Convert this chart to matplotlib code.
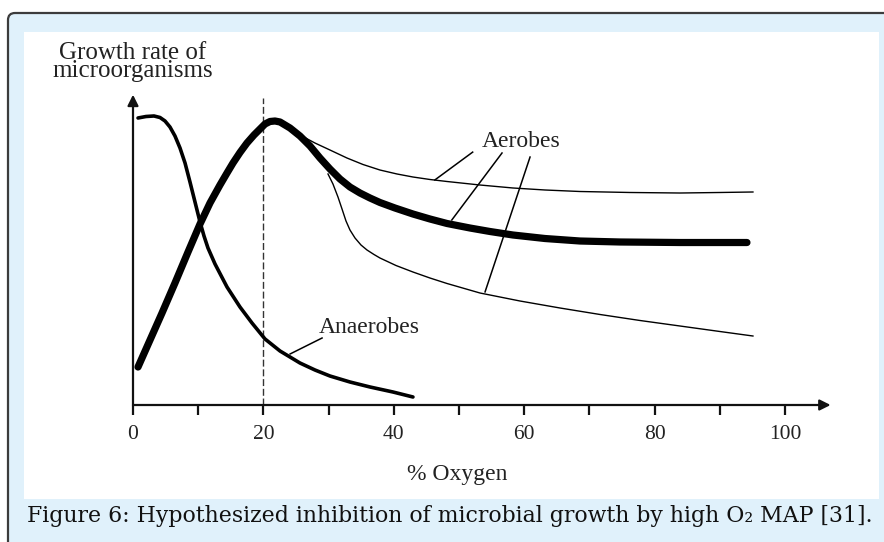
import matplotlib
matplotlib.use("Agg")
import matplotlib.pyplot as plt
from matplotlib.patches import FancyBboxPatch, Rectangle

# values (x = % oxygen, y = relative growth rate)
anaerobe_x = [0.77, 1.99, 3.22, 4.14, 4.91, 5.67, 6.44, 7.21, 7.98, 8.74,
              9.51, 10.28, 10.89, 11.50, 12.58, 14.42, 16.41, 18.25, 20.25,
              22.55, 25.61, 27.91, 30.21, 33.28, 36.35, 39.88, 42.94]
anaerobe_y = [98.97, 99.48, 99.66, 99.14, 97.93, 95.86, 92.76, 88.62, 83.45,
              76.90, 70.00, 63.10, 58.28, 54.14, 48.62, 40.69, 33.79, 28.28,
              22.76, 18.62, 14.48, 12.07, 10.00, 7.93, 6.21, 4.48, 2.76]

aerobe_x = [0.77, 2.61, 4.45, 6.44, 8.44, 10.28, 11.81, 13.34, 14.42, 15.34,
            16.41, 17.48, 18.56, 19.48, 20.25, 21.01, 21.78, 22.55, 24.08,
            25.61, 27.15, 28.68, 30.21, 31.75, 33.28, 34.82, 36.35, 37.88,
            40.18, 42.94, 45.55, 48.16, 51.69, 54.75, 58.28, 63.19, 68.56,
            74.69, 83.90, 94.17]
aerobe_y = [13.10, 22.41, 31.72, 42.07, 52.76, 62.41, 69.66, 75.86, 80.00,
            83.45, 87.07, 90.34, 93.10, 95.17, 96.90, 97.76, 97.93, 97.59,
            95.52, 92.76, 89.31, 85.17, 81.38, 77.93, 75.17, 73.10, 71.38,
            69.83, 67.93, 65.86, 64.14, 62.59, 61.03, 59.83, 58.62, 57.41,
            56.55, 56.21, 56.03, 56.03]

aerobe_hi_x = [25.61, 27.91, 30.21, 32.82, 35.28, 37.88, 40.49, 42.94, 45.55,
               48.16, 53.22, 58.28, 63.19, 68.56, 76.23, 83.90, 90.03, 95.09]
aerobe_hi_y = [93.10, 90.34, 87.93, 85.17, 82.93, 81.03, 79.66, 78.62, 77.76,
               77.07, 75.86, 74.83, 74.14, 73.62, 73.28, 73.10, 73.28, 73.45]

aerobe_lo_x = [29.91, 30.67, 31.44, 32.06, 32.67, 33.28, 34.05, 34.97, 35.89,
               36.96, 37.88, 40.34, 42.94, 45.55, 48.16, 53.22, 59.36, 65.49,
               71.63, 77.76, 83.90, 90.03, 95.09]
aerobe_lo_y = [79.66, 76.21, 71.72, 67.59, 63.45, 60.34, 57.59, 55.17, 53.45,
               51.90, 50.69, 48.10, 45.86, 43.79, 41.90, 38.62, 35.86, 33.45,
               31.21, 29.14, 27.24, 25.34, 23.79]

tick_values = [0, 10, 20, 30, 40, 50, 60, 70, 80, 90, 100]
tick_labels = ["0", "", "20", "", "40", "", "60", "", "80", "", "100"]

# leader lines: (label end) -> (curve end)
aerobe_leaders = [((52.1, 87.2), (46.3, 77.6)),
                  ((56.6, 86.9), (48.9, 63.8)),
                  ((60.9, 85.5), (54.0, 39.0))]
anaerobe_leader = ((29.0, 23.1), (24.1, 17.6))

optimum_o2 = 20
ylabel = "Growth rate of\nmicroorganisms"
caption = "Figure 6: Hypothesized inhibition of microbial growth by high O\u2082 MAP [31]."

W, H = 884, 542
fig = plt.figure(figsize=(W / 100, H / 100), dpi=100)
fig.patch.set_facecolor("white")

# light blue frame and white panel (pixel coords)
frame = FancyBboxPatch((8, -100), 1000, 542 - 13 + 100,
                       boxstyle="round,pad=0,rounding_size=7",
                       transform=None, facecolor="#e0f1fb",
                       edgecolor="#3c3c3c", linewidth=1.6, zorder=-3)
fig.patches.append(frame)
panel = Rectangle((24, H - 499), 879 - 24, 499 - 32, transform=None,
                  facecolor="white", edgecolor="none", zorder=-2)
fig.patches.append(panel)

serif = "Liberation Serif"

# axes placed so that x=0 sits at px 133 and y=0 at px 405
ax = fig.add_axes([133 / W, (H - 405) / H, 697.6 / W, 310.3 / H])
ax.set_xlim(0, 107)
ax.set_ylim(0, 107)
ax.patch.set_alpha(0)
for s in ax.spines.values():
    s.set_visible(False)

arrow = dict(arrowstyle="-|>", lw=1.6, color="#111111", mutation_scale=16,
             shrinkA=0, shrinkB=0)
ax.annotate("", xy=(1, 0), xytext=(0, 0), xycoords="axes fraction",
            arrowprops=arrow)
ax.annotate("", xy=(0, 1), xytext=(0, 0), xycoords="axes fraction",
            arrowprops=arrow)

ax.set_xticks(tick_values)
ax.set_xticklabels(tick_labels, fontfamily=serif, fontsize=15.5, color="#222222")
ax.tick_params(axis="x", direction="out", length=7.5, width=1.6,
               color="#111111", pad=7)
ax.set_yticks([])

ax.plot([optimum_o2, optimum_o2], [0, 105.9], color="#333333", lw=1.0,
        dashes=(5, 2))

ax.plot(anaerobe_x, anaerobe_y, color="black", lw=2.6,
        solid_capstyle="round", solid_joinstyle="round")
ax.plot(aerobe_hi_x, aerobe_hi_y, color="black", lw=1.0,
        solid_joinstyle="round")
ax.plot(aerobe_lo_x, aerobe_lo_y, color="black", lw=1.0,
        solid_joinstyle="round")
ax.plot(aerobe_x, aerobe_y, color="black", lw=5.2,
        solid_capstyle="round", solid_joinstyle="round")

for (x0, y0), (x1, y1) in aerobe_leaders:
    ax.plot([x0, x1], [y0, y1], color="black", lw=1.1)
(x0, y0), (x1, y1) = anaerobe_leader
ax.plot([x0, x1], [y0, y1], color="black", lw=1.1)

ax.text(59.5, 89.0, "Aerobes", family=serif, fontsize=17, ha="center",
        va="baseline", color="#222222")
ax.text(36.3, 24.8, "Anaerobes", family=serif, fontsize=17, ha="center",
        va="baseline", color="#222222")
ax.text(49.8, -25.9, "% Oxygen", family=serif, fontsize=17, ha="center",
        va="baseline", color="#222222", clip_on=False)
ax.text(0, 113.1, ylabel, family=serif, fontsize=18, ha="center",
        va="baseline", multialignment="center", linespacing=0.78,
        color="#222222", clip_on=False)

# caption, sized to fill the strip width
cap = fig.text(27 / W, 20 / H, caption, family="DejaVu Serif", fontsize=14,
               ha="left", va="baseline", color="#111111")
renderer = fig.canvas.get_renderer()
w = cap.get_window_extent(renderer).width
cap.set_fontsize(14 * 848 / w)

fig.savefig("out.png", dpi=100)
